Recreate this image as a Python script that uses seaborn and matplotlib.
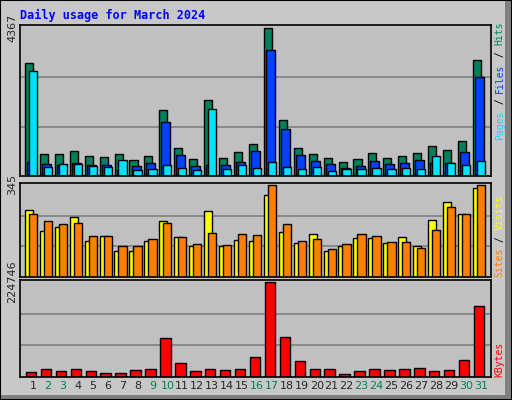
import numpy as np
import pandas as pd
import seaborn as sns
import matplotlib.pyplot as plt
from matplotlib.patches import Rectangle
from matplotlib.transforms import offset_copy

days = list(range(1, 32))
hits = [3348, 640, 640, 728, 582, 553, 640, 466, 582, 1950, 815, 495, 2242, 524, 699, 932,
        4367, 1659, 815, 640, 524, 408, 495, 670, 524, 582, 670, 874, 757, 1019, 3435]
files = [408, 350, 320, 378, 320, 320, 175, 291, 378, 1601, 611, 291, 320, 320, 408, 728,
         3727, 1397, 611, 437, 350, 233, 291, 437, 350, 378, 466, 378, 378, 699, 2911]
pages = [3086, 272, 350, 350, 291, 262, 466, 175, 204, 320, 233, 175, 1980, 204, 320, 233,
         408, 262, 204, 262, 146, 204, 204, 233, 204, 233, 204, 582, 378, 320, 437]
visits = [252, 172, 186, 226, 135, 153, 99, 99, 135, 208, 150, 117, 248, 117, 139, 135,
          307, 168, 128, 161, 99, 117, 146, 146, 128, 150, 117, 212, 281, 237, 332]
sites = [234, 208, 197, 204, 153, 153, 117, 117, 142, 204, 150, 124, 164, 120, 161, 157,
         345, 197, 135, 142, 106, 124, 161, 153, 131, 131, 110, 175, 263, 237, 345]
kbytes = [12349, 19758, 14818, 19758, 14818, 9879, 9879, 17288, 19758, 91380, 32107, 14818,
          19758, 17288, 19758, 46925, 224746, 93850, 37046, 19758, 19758, 7409, 14818, 19758,
          17288, 19758, 22228, 14818, 17288, 39516, 167943]
weekend = [2, 3, 9, 10, 16, 17, 23, 24, 30, 31]

sns.set_style('white')
plt.rcParams['font.family'] = ['DejaVu Sans Mono']

bg = '#c0c0c0'
fig = plt.figure(figsize=(5.12, 4.0), dpi=100, facecolor='#c8c8c8')
W, H = 512, 400


def make_ax(top, bottom):
    ax = fig.add_axes([20 / W, 1 - bottom / H, 471 / W, (bottom - top) / H])
    ax.set_facecolor(bg)
    return ax


def bars(ax, vals, offset, width, color):
    df = pd.DataFrame({'x': np.array(days) + offset, 'y': vals})
    sns.barplot(data=df, x='x', y='y', native_scale=True, width=width, color=color,
                edgecolor='black', linewidth=1, saturation=1, ax=ax)


def finish(ax, vmax):
    ax.set_xlim(0.13, 31.67)
    ax.set_ylim(0, vmax * 1.02)
    for f in (1 / 3, 2 / 3):
        ax.axhline(vmax * f, color='#808080', lw=1.2, zorder=0)
    ax.set_yticks([vmax])
    ax.set_yticklabels([str(vmax)], rotation=90, va='center', fontsize=8,
                       family='DejaVu Sans')
    ax.tick_params(axis='y', length=0, pad=2)
    ax.set_xlabel('')
    ax.set_ylabel('')
    ax.set_axisbelow(True)
    for s in ax.spines.values():
        s.set_color('black')
        s.set_linewidth(1.2)


def side_label(ax, parts, y0):
    adv = 5.9
    n = 0
    for txt, col in parts:
        tr = offset_copy(ax.transAxes, fig=fig, x=0, y=n * adv, units='dots')
        ax.text(1.008, y0, txt, transform=tr, rotation=90, color=col,
                fontsize=7, ha='left', va='bottom', clip_on=False)
        n += len(txt)


ax1 = make_ax(25, 176)
bars(ax1, hits, -0.27, 0.54, '#00805c')
bars(ax1, files, -0.1, 0.6, '#0040ff')
bars(ax1, pages, 0.0, 0.55, '#00e0ff')
finish(ax1, 4367)
ax1.set_xticks([])
side_label(ax1, [('Pages', '#00e0ff'), (' / ', 'black'), ('Files', '#0040ff'),
                 (' / ', 'black'), ('Hits', '#00805c')], 0.24)

ax2 = make_ax(183, 277)
bars(ax2, visits, -0.27, 0.55, '#ffff00')
bars(ax2, sites, 0.0, 0.55, '#ff8000')
finish(ax2, 345)
ax2.set_xticks([])
side_label(ax2, [('Sites', '#ff8000'), (' / ', 'black'), ('Visits', '#ffff00')], 0.0)

ax3 = make_ax(280, 377)
bars(ax3, kbytes, -0.13, 0.7, '#ff0000')
finish(ax3, 224746)
ax3.set_xticks(days)
ax3.set_xticklabels([str(d) for d in days], fontsize=8, family='DejaVu Sans')
for lab, d in zip(ax3.get_xticklabels(), days):
    if d in weekend:
        lab.set_color('#00805c')
ax3.tick_params(axis='x', length=0, pad=3)
side_label(ax3, [('KBytes', '#ff0000')], 0.0)

fig.text(20 / W, 1 - 15 / H, 'Daily usage for March 2024', color='#0000ff',
         fontsize=8.5, fontweight='bold', va='center')

# bevelled frame, kept behind the axes and labels
for rect in [Rectangle((1 - 7 / W, 0), 7 / W, 1), Rectangle((0, 0), 1, 5 / H)]:
    rect.set_transform(fig.transFigure)
    rect.set_facecolor('#808080')
    rect.set_edgecolor('none')
    rect.set_zorder(-5)
    fig.patches.append(rect)
fig.patches.append(Rectangle((0, 0), 1, 1, transform=fig.transFigure, fill=False,
                             edgecolor='black', lw=1.5, zorder=-4))

fig.savefig('out.png', dpi=100, facecolor=fig.get_facecolor())
